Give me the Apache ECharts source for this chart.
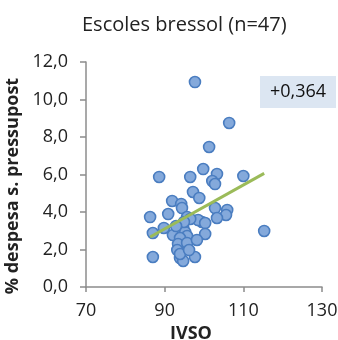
<!DOCTYPE html>
<html><head><meta charset="utf-8">
<script src="https://cdn.jsdelivr.net/npm/echarts@6/dist/echarts.min.js"></script>
<style>html,body{margin:0;padding:0;background:#fff}#c{width:338px;height:340px}</style>
</head><body><div id="c"></div>
<script>
const ivso = [97.7,106.4,101.3,88.6,96.5,99.8,103.3,102.1,102.8,110.0,97.2,98.8,91.9,94.2,94.4,90.9,86.3,102.8,105.9,105.6,103.3,99.5,87.0,89.8,98.5,100.3,95.7,96.5,94.7,95.2,95.7,92.1,93.9,93.4,93.2,95.7,100.3,98.2,115.3,87.0,93.9,94.7,97.7,93.9,96.2,94.9,92.9];
const despesa = [10.93,8.75,7.47,5.87,5.87,6.29,6.03,5.65,5.49,5.92,5.07,4.75,4.59,4.43,4.21,3.89,3.73,4.21,4.11,3.84,3.68,3.47,2.88,3.15,3.57,3.41,3.73,3.63,3.2,2.93,2.72,2.77,2.61,2.29,1.97,2.35,2.83,2.51,2.99,1.6,1.55,1.39,1.6,1.76,1.97,3.47,3.25];
const trendX = [86.3, 115.3];
const trendY = [2.67, 6.06];
const titleText = 'Escoles bressol (n=47)';
const xName = 'IVSO';
const yName = '% despesa s. pressupost';
const rLabel = '+0,364';

const pts = ivso.map((x,i)=>[x, despesa[i]]);
const trend = trendX.map((x,i)=>[x, trendY[i]]);
const F = '"Open Sans", "Noto Sans", sans-serif';
const chart = echarts.init(document.getElementById('c'));
chart.setOption({
  animation:false,
  title:{text:titleText,left:77,top:10,textStyle:{fontFamily:F,fontSize:20,fontWeight:'normal',color:'#222'}},
  grid:{left:86,right:16,top:62,bottom:53,containLabel:false,outerBoundsMode:'none'},
  xAxis:{type:'value',min:70,max:130,interval:20,
    name:xName,nameLocation:'middle',nameGap:36,
    nameTextStyle:{fontFamily:F,fontSize:18,fontWeight:'bold',color:'#222',padding:[0,26,0,0]},
    axisLine:{show:true,onZero:false,lineStyle:{color:'#8c8c8c',width:1.5}},
    axisTick:{show:true,length:5,lineStyle:{color:'#8c8c8c',width:1.5}},
    axisLabel:{fontFamily:F,fontSize:18,color:'#222',margin:15},
    splitLine:{show:false}},
  yAxis:{type:'value',min:0,max:12,interval:2,
    name:yName,nameLocation:'middle',nameGap:59,nameRotate:90,
    nameTextStyle:{fontFamily:F,fontSize:18,fontWeight:'bold',color:'#222',padding:[0,23,0,0]},
    axisLine:{show:true,lineStyle:{color:'#8c8c8c',width:1.5}},
    axisTick:{show:true,length:6,lineStyle:{color:'#8c8c8c',width:1.5}},
    axisLabel:{fontFamily:F,fontSize:18,color:'#222',margin:18,formatter:v=>v.toFixed(1).replace('.',',')},
    splitLine:{show:false}},
  graphic:[{type:'group',left:260,top:76,children:[
    {type:'rect',shape:{x:0,y:0,width:76,height:32},style:{fill:'#dce6f2'}},
    {type:'text',style:{text:rLabel,x:38,y:16,align:'center',verticalAlign:'middle',font:'18px '+F,fill:'#111'}}
  ]}],
  series:[
    {type:'scatter',data:pts,symbol:'circle',symbolSize:11,
     itemStyle:{color:'#84a9db',borderColor:'#4a7dc0',borderWidth:1.6,opacity:1},z:2},
    {type:'line',data:trend,showSymbol:false,symbol:'none',
     lineStyle:{color:'#9bbb59',width:3},z:3}
  ]
});
</script></body></html>
